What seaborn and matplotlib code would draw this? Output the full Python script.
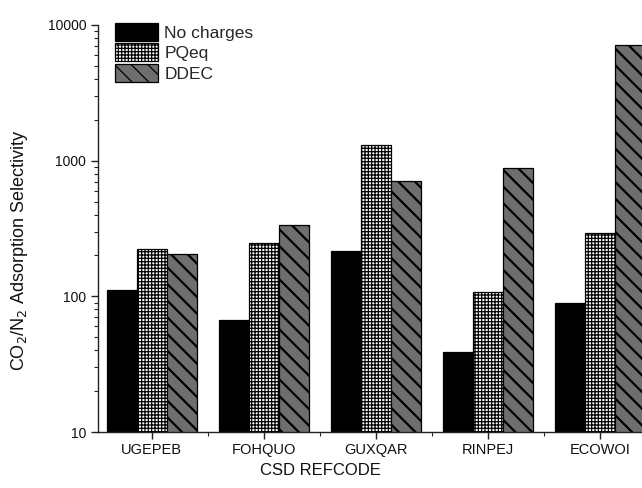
import numpy as np
import pandas as pd
import matplotlib
matplotlib.use("Agg")
import matplotlib.pyplot as plt
import seaborn as sns
from matplotlib.ticker import LogLocator, NullFormatter, FixedLocator

categories = ["UGEPEB", "FOHQUO", "GUXQAR", "RINPEJ", "ECOWOI"]
series_names = ["No charges", "PQeq", "DDEC"]
no_charges = [112, 67, 217, 39, 89]
pqeq = [222, 246, 1297, 107, 294]
ddec = [205, 334, 707, 887, 7110]

df = pd.DataFrame({
    "code": categories * 3,
    "method": sum([[s] * len(categories) for s in series_names], []),
    "value": no_charges + pqeq + ddec,
})

sns.set_theme(style="ticks")
plt.rcParams["font.family"] = ["Liberation Sans", "DejaVu Sans"]
plt.rcParams["hatch.color"] = "black"
plt.rcParams["hatch.linewidth"] = 0.9

fig = plt.figure(figsize=(6.42, 4.88), dpi=100)
ax = fig.add_axes([98 / 642, 1 - 432 / 488, 560 / 642, (432 - 25) / 488])

sns.barplot(data=df, x="code", y="value", hue="method", order=categories,
            hue_order=series_names, palette=["black", "white", "#6e6e6e"],
            edgecolor="black", linewidth=0.9, saturation=1, ax=ax, legend=False,
            width=0.8)
ax.set_yscale("log")

hatches = [None, "+++++", "\\\\"]
hlw = [None, 0.9, 1.6]
for cont, h, lw in zip(ax.containers, hatches, hlw):
    for p in cont:
        if h:
            p.set_hatch(h)
            if hasattr(p, "set_hatch_linewidth"):
                p.set_hatch_linewidth(lw)

ax.set_xlim(-0.48, 4.52)
ax.set_ylim(10, 10000)
ax.yaxis.set_minor_locator(LogLocator(base=10, subs=np.arange(2, 10)))
ax.yaxis.set_minor_formatter(NullFormatter())
ax.set_yticks([10, 100, 1000, 10000])
ax.set_yticklabels(["10", "100", "1000", "10000"])
ax.xaxis.set_minor_locator(FixedLocator([0.5, 1.5, 2.5, 3.5]))

ax.tick_params(axis="both", which="major", direction="out", length=5, width=1,
               color="#222222", labelsize=10, labelcolor="#111111")
ax.tick_params(axis="both", which="minor", direction="out", length=3, width=0.8,
               color="#222222")
ax.tick_params(axis="x", labelsize=10.5, pad=3)

for s in ["top", "right"]:
    ax.spines[s].set_visible(False)
for s in ["left", "bottom"]:
    ax.spines[s].set_color("#222222")
    ax.spines[s].set_linewidth(1)

ax.set_xlabel("CSD REFCODE", fontsize=12, color="#111111")
ax.set_ylabel("CO$_2$/N$_2$ Adsorption Selectivity", fontsize=13, color="#111111")
ax.xaxis.set_label_coords((320 - 98) / 560, -(463 - 432) / 407)
ax.yaxis.set_label_coords(-(98 - 30) / 560, 0.5 + (407 / 2 - (250 - 25)) / 407)

handles = [cont[0] for cont in ax.containers]
leg = fig.legend(handles, series_names, loc="upper left",
                 bbox_to_anchor=(115 / 642, 1 - 23 / 488),
                 bbox_transform=fig.transFigure, frameon=False,
                 fontsize=12.5, handlelength=2.5, handleheight=1.2,
                 labelspacing=0.15, handletextpad=0.35, borderpad=0,
                 borderaxespad=0)

fig.savefig("out.png", dpi=100)
